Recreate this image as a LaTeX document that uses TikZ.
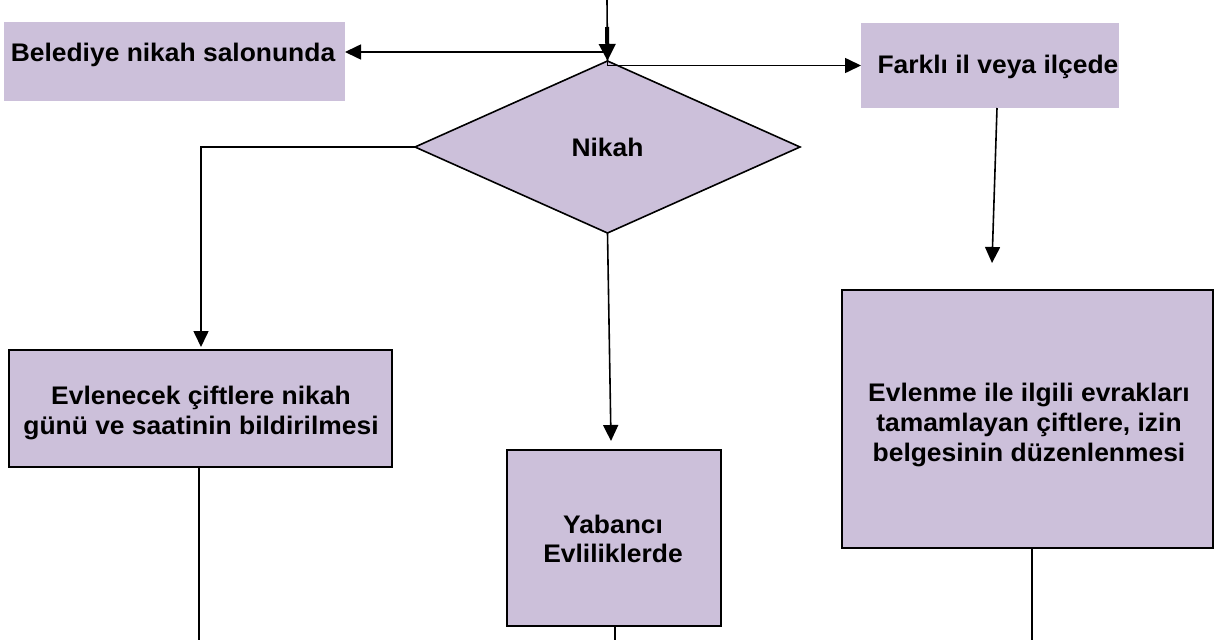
\documentclass[tikz,border=0pt]{standalone}
\usepackage{fontspec}
\setmainfont{Liberation Sans}[FakeStretch=1.04]
\usetikzlibrary{arrows.meta,shapes.geometric}
\definecolor{lav}{RGB}{204,192,218}
\begin{document}
\begin{tikzpicture}[x=1pt,y=-1pt,
  lbl/.style={font=\bfseries\fontsize{25.4}{29.8}\selectfont, align=center, inner sep=0pt},
  plainbox/.style={fill=lav, draw=none, inner sep=0pt, outer sep=0pt},
  framedbox/.style={fill=lav, draw=black, line width=1.6pt, inner sep=0pt, outer sep=0pt},
  conn/.style={line width=1.6pt},
  arr/.style={conn, -{Triangle[length=16pt,width=15pt]}}]
\useasboundingbox (0,0) rectangle (1215,640);
\fill[white] (0,0) rectangle (1215,640);

% top boxes (no border)
\node[plainbox, minimum width=341pt, minimum height=79pt] (bel) at (174.5,61.5) {};
\node[lbl, anchor=base] (belt) at (173,61) {Belediye nikah salonunda};
\node[plainbox, minimum width=258pt, minimum height=85pt] (far) at (990,65.5) {};
\node[lbl, anchor=base] (fart) at (998,73) {Farklı il veya ilçede};

% decision
\node[diamond, fill=lav, draw=black, line width=1.6pt, inner sep=0pt, outer sep=0pt,
      minimum width=385pt, minimum height=172pt, lbl] (dia) at (607.5,147) {Nikah};

% framed boxes
\node[framedbox, minimum width=383pt, minimum height=117pt] (evb) at (200.5,408.5) {};
\node[lbl] (evt) at (201,413) {Evlenecek çiftlere nikah\\günü ve saatinin bildirilmesi};
\node[framedbox, minimum width=214pt, minimum height=176pt] (yab) at (614,538) {};
\node[lbl] (yabt) at (613,539) {Yabancı\\Evliliklerde};
\node[framedbox, minimum width=371pt, minimum height=258pt] (evr) at (1027.5,419) {};
\node[lbl] (evrt) at (1029,425) {Evlenme ile ilgili evrakları\\tamamlayan çiftlere, izin\\belgesinin düzenlenmesi};

% coordinates for free ends
\coordinate (c0) at (607,0);
\coordinate (c1) at (607,27);
\coordinate (jl) at (607,52);
\coordinate (t1) at (201,347);
\coordinate (t2) at (611,441);
\coordinate (s3) at (997,108);
\coordinate (t3) at (992,263);
\coordinate (u1) at (199,467);
\coordinate (b1) at (199,640);
\coordinate (u2) at (615,626);
\coordinate (b2) at (615,640);
\coordinate (u3) at (1032,548);
\coordinate (b3) at (1032,640);

% connectors
\draw[conn] (c0) -- (dia.north);
\draw[line width=4pt, -{Triangle[length=17pt,width=16pt]}] (c1) -- (dia.north);
\draw[arr] (jl) -- (jl -| bel.east);
\draw[arr] (dia.north) |- (far.west);
\draw[arr] (dia.west) -| (t1);
\draw[arr] (dia.south) -- (t2);
\draw[arr] (s3) -- (t3);
\draw[conn] (u1) -- (b1);
\draw[conn] (u2) -- (b2);
\draw[conn] (u3) -- (b3);
\end{tikzpicture}
\end{document}
